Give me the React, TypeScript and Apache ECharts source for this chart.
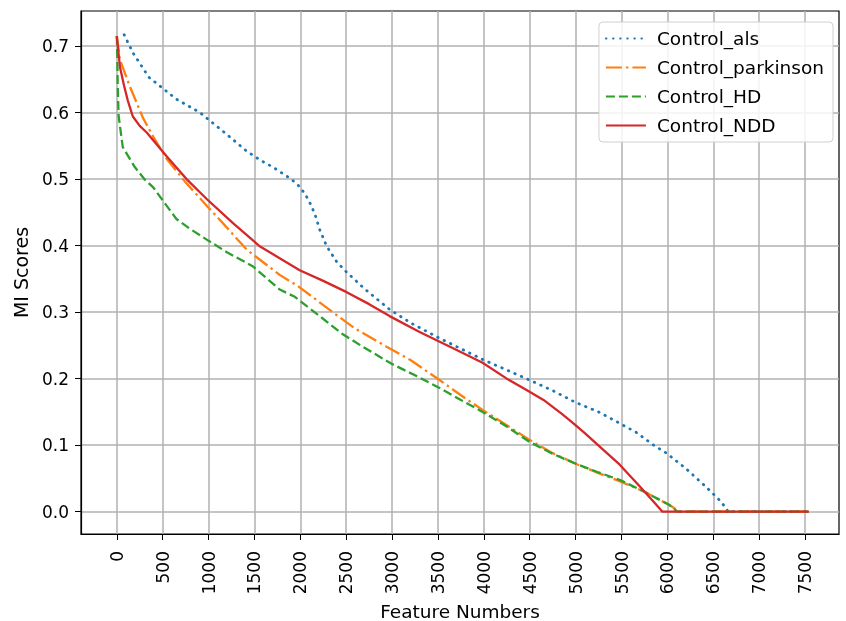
import React, { useEffect, useRef } from "react";
import * as echarts from "echarts";

const xTicks = [0, 500, 1000, 1500, 2000, 2500, 3000, 3500, 4000, 4500, 5000, 5500, 6000, 6500, 7000, 7500];
const yTicks = [0, 0.1, 0.2, 0.3, 0.4, 0.5, 0.6, 0.7];

const alsX = [80, 175, 350, 650, 905, 1200, 1415, 1557, 1700, 1800, 1900, 1975, 2050, 2102, 2160, 2211, 2287, 2400, 2505, 2700, 2973, 3200, 3485, 3750, 4000, 4250, 4497, 4750, 4988, 5250, 5478, 5663, 5850, 5990, 6200, 6400, 6550, 6643, 6660, 7540];
const alsY = [0.717, 0.69, 0.653, 0.62, 0.6, 0.567, 0.542, 0.529, 0.518, 0.509, 0.5, 0.491, 0.478, 0.465, 0.447, 0.424, 0.399, 0.375, 0.36, 0.335, 0.304, 0.284, 0.263, 0.245, 0.228, 0.213, 0.198, 0.182, 0.165, 0.15, 0.133, 0.119, 0.1, 0.088, 0.065, 0.04, 0.02, 0.005, 0, 0];

const parkX = [0, 33, 140, 285, 400, 545, 750, 980, 1200, 1415, 1775, 1975, 2352, 2600, 2940, 3200, 3517, 3750, 3986, 4250, 4497, 4750, 5020, 5250, 5478, 5750, 6023, 6110, 6150, 7540];
const parkY = [0.715, 0.68, 0.64, 0.592, 0.563, 0.53, 0.495, 0.46, 0.427, 0.394, 0.356, 0.339, 0.3, 0.275, 0.248, 0.228, 0.198, 0.175, 0.153, 0.13, 0.108, 0.088, 0.071, 0.058, 0.046, 0.03, 0.01, 0.002, 0, 0];

const hdX = [0, 5, 10, 20, 65, 196, 300, 400, 500, 650, 800, 980, 1200, 1480, 1775, 1940, 2211, 2450, 2679, 3000, 3250, 3517, 3750, 3986, 4250, 4497, 4750, 5020, 5250, 5478, 5750, 6023, 6110, 7540];
const hdY = [0.715, 0.69, 0.64, 0.595, 0.548, 0.518, 0.5, 0.487, 0.468, 0.44, 0.425, 0.409, 0.39, 0.369, 0.334, 0.323, 0.294, 0.268, 0.248, 0.222, 0.205, 0.186, 0.168, 0.15, 0.128, 0.105, 0.087, 0.071, 0.059, 0.048, 0.03, 0.01, 0, 0];

const nddX = [0, 35, 80, 120, 175, 250, 326, 545, 760, 980, 1263, 1557, 1775, 1993, 2250, 2505, 2750, 2973, 3300, 3659, 3986, 4250, 4465, 4650, 4850, 4966, 5100, 5293, 5478, 5700, 5850, 5946, 7540];
const nddY = [0.715, 0.668, 0.64, 0.618, 0.594, 0.58, 0.57, 0.534, 0.5, 0.47, 0.434, 0.399, 0.381, 0.363, 0.347, 0.33, 0.312, 0.294, 0.27, 0.246, 0.224, 0.2, 0.183, 0.168, 0.147, 0.134, 0.118, 0.094, 0.071, 0.038, 0.015, 0, 0];

const seriesNames = ["Control_als", "Control_parkinson", "Control_HD", "Control_NDD"];
const colors = ["#1f77b4", "#ff7f0e", "#2ca02c", "#d62728"];

const FONT = "DejaVu Sans";

function zip(xs: number[], ys: number[]) {
  return xs.map((x, i) => [x, ys[i]]);
}

export default function App() {
  const ref = useRef<HTMLDivElement>(null);
  useEffect(() => {
    if (!ref.current) return;
    const chart = echarts.init(ref.current, null, { renderer: "svg" });
    const dashes: any[] = [[0.5, 6.6], [16, 4, 2.5, 4], [9, 4], "solid"];
    const caps = ["round", "butt", "butt", "butt"];
    const widths = [2.8, 2.3, 2.3, 2.3];
    const datas = [zip(alsX, alsY), zip(parkX, parkY), zip(hdX, hdY), zip(nddX, nddY)];
    chart.setOption({
      animation: false,
      textStyle: { fontFamily: FONT },
      grid: {
        left: 81,
        top: 11,
        right: 7,
        bottom: 87,
        outerBoundsMode: "none",
        containLabel: false,
        show: true,
        borderColor: "#000",
        borderWidth: 1.2,
        backgroundColor: "#fff",
      },
      legend: {
        orient: "vertical",
        right: 13,
        top: 22,
        padding: [7, 9, 7, 6],
        itemWidth: 40,
        itemHeight: 14,
        itemGap: 10,
        backgroundColor: "rgba(255,255,255,0.85)",
        borderColor: "#d0d0d0",
        borderWidth: 1,
        borderRadius: 4,
        itemStyle: { opacity: 0 },
        textStyle: { fontFamily: FONT, fontSize: 18.5, color: "#000", padding: [0, 0, 0, 6] },
        data: seriesNames,
      },
      xAxis: {
        type: "value",
        min: -390,
        max: 7870,
        name: "Feature Numbers",
        nameLocation: "middle",
        nameGap: 65,
        nameTextStyle: { fontFamily: FONT, fontSize: 18.5, color: "#000" },
        axisLine: { show: true, onZero: false, lineStyle: { color: "#000", width: 1.2 } },
        axisTick: { show: true, inside: false, length: 6, lineStyle: { color: "#000" }, customValues: xTicks },
        axisLabel: {
          customValues: xTicks,
          rotate: 90,
          margin: 17,
          fontFamily: FONT,
          fontSize: 17,
          color: "#000",
          formatter: (v: number) => String(v),
        },
        splitLine: { show: true, lineStyle: { color: "#b0b0b0", width: 1.5 } },
      },
      yAxis: {
        type: "value",
        min: -0.0335,
        max: 0.7526,
        name: "MI Scores",
        nameLocation: "middle",
        nameGap: 51,
        nameTextStyle: { fontFamily: FONT, fontSize: 19, color: "#000" },
        axisLine: { show: true, onZero: false, lineStyle: { color: "#000", width: 1.2 } },
        axisTick: { show: true, inside: false, length: 6, lineStyle: { color: "#000" }, customValues: yTicks },
        axisLabel: {
          customValues: yTicks,
          margin: 12,
          fontFamily: FONT,
          fontSize: 17,
          color: "#000",
          formatter: (v: number) => v.toFixed(1),
        },
        splitLine: { show: true, lineStyle: { color: "#b0b0b0", width: 1.5 } },
      },
      series: seriesNames.map((name, i) => ({
        name,
        type: "line",
        data: datas[i],
        symbol: "none",
        smooth: false,
        color: colors[i],
        lineStyle: { color: colors[i], width: widths[i], type: dashes[i], cap: caps[i] },
        z: 2 + i,
      })),
    });
    return () => chart.dispose();
  }, []);
  return <div ref={ref} style={{ position: "fixed", left: 0, top: 0, width: 846, height: 621 }} />;
}
